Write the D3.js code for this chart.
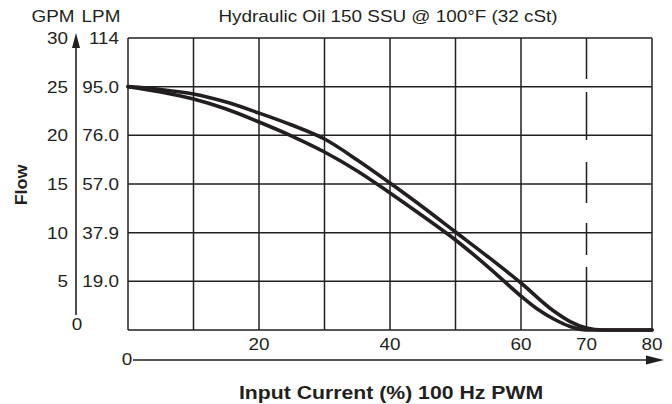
<!DOCTYPE html>
<html>
<head>
<meta charset="utf-8">
<script src="https://cdn.jsdelivr.net/npm/d3@7/dist/d3.min.js"></script>
<style>
  html, body { margin: 0; padding: 0; background: #fff; }
  svg { display: block; }
  text { font-family: "Liberation Sans", Arial, Helvetica, sans-serif; fill: #231f20; }
</style>
</head>
<body>
<svg id="chart" width="672" height="404"></svg>
<script>
// Input current (%) vs flow (GPM), two curves (rising / falling current)
const currentUp = [0, 5, 10, 15, 20, 25, 30, 35, 40, 45, 50, 55, 60, 65, 67.5, 70, 72.5, 80];
const flowUp    = [25, 24.71, 24.25, 23.42, 22.29, 21.06, 19.62, 17.47, 15.1, 12.64, 10.07, 7.5, 4.83, 1.95, 0.87, 0.21, 0, 0];
const currentLo = [0, 5, 10, 15, 20, 25, 30, 35, 40, 45, 50, 55, 60, 62.5, 65, 67.5, 70, 80];
const flowLo    = [25, 24.45, 23.73, 22.7, 21.37, 19.93, 18.29, 16.34, 14.08, 11.71, 9.25, 6.47, 3.49, 2.16, 1.13, 0.36, 0, 0];

const gpmTicks = [30, 25, 20, 15, 10, 5];
const lpmTicks = ["114", "95.0", "76.0", "57.0", "37.9", "19.0"];
const xGrid = [0, 10, 20, 30, 40, 50, 60, 70, 80];
const xTickLabels = [20, 40, 60, 70, 80];

const ink = "#231f20";
const SX = 1.18; // horizontal glyph widening
const svg = d3.select("#chart");

const x = d3.scaleLinear().domain([0, 80]).range([128, 652]);
const y = d3.scaleLinear().domain([0, 30]).range([330, 38]);

function txt(px, py, str, size, opts = {}) {
  const t = svg.append("text")
    .attr("transform", `translate(${px},${py}) ${opts.rotate ? "rotate(-90)" : ""} scale(${opts.sx || SX},1)`)
    .attr("text-anchor", opts.anchor || "middle")
    .attr("dominant-baseline", "central")
    .style("font-size", size + "px")
    .text(str);
  if (opts.bold) t.style("font-weight", "bold");
  return t;
}

// grid
const grid = svg.append("g").attr("stroke", ink).attr("stroke-width", 1.5).attr("fill", "none");
grid.selectAll("line.h").data(gpmTicks.concat([0])).join("line")
  .attr("x1", x(0)).attr("x2", x(80))
  .attr("y1", d => y(d)).attr("y2", d => y(d));
grid.selectAll("line.v").data(xGrid).join("line")
  .attr("y1", y(30)).attr("y2", y(0))
  .attr("x1", d => x(d)).attr("x2", d => x(d))
  .attr("stroke-dasharray", d => d === 70 ? "41,13,48,22,41,20,32,12,63" : null);

// curves
const line = d3.line().curve(d3.curveMonotoneX);
const curves = svg.append("g").attr("fill", "none").attr("stroke", ink)
  .attr("stroke-width", 3.6).attr("stroke-linejoin", "round").attr("stroke-linecap", "round");
curves.append("path").attr("d", line(currentUp.map((c, i) => [x(c), y(flowUp[i])])));
curves.append("path").attr("d", line(currentLo.map((c, i) => [x(c), y(flowLo[i])])));

// GPM labels
const gG = svg.append("g").attr("transform", "translate(68,0)")
  .call(d3.axisLeft(y).tickValues(gpmTicks).tickSize(0).tickPadding(0));
gG.select(".domain").remove();
gG.selectAll("text").attr("x", 0).attr("dy", null).attr("dominant-baseline", "central")
  .attr("transform", `scale(${SX},1)`).attr("fill", ink)
  .style("font-size", "16px").style("font-family", "'Liberation Sans', Arial, sans-serif");

// LPM labels
const lpmScale = d3.scalePoint().domain(lpmTicks).range([y(30), y(5)]);
const gL = svg.append("g").attr("transform", "translate(119,0)")
  .call(d3.axisLeft(lpmScale).tickSize(0).tickPadding(0));
gL.select(".domain").remove();
gL.selectAll("text").attr("x", 0).attr("dy", null).attr("dominant-baseline", "central")
  .attr("transform", `scale(${SX},1)`).attr("fill", ink)
  .style("font-size", "16px").style("font-family", "'Liberation Sans', Arial, sans-serif");

// vertical arrow for flow
svg.append("line").attr("x1", 76).attr("x2", 76).attr("y1", 44).attr("y2", 315)
  .attr("stroke", ink).attr("stroke-width", 1.6);
svg.append("path").attr("d", "M76,33 L72,48 L80,48 Z").attr("fill", ink);
txt(77, 325, "0", 16);

// x labels
xTickLabels.forEach(d => txt(x(d), 345, d, 16));

// horizontal arrow for current
svg.append("line").attr("x1", 133).attr("x2", 650).attr("y1", 360).attr("y2", 360)
  .attr("stroke", ink).attr("stroke-width", 1.6);
svg.append("path").attr("d", "M664,360 L646,355.5 L646,364.5 Z").attr("fill", ink);
txt(127, 360, "0", 16);

// headers
txt(53, 17, "GPM", 16);
txt(101, 17, "LPM", 16);
txt(388, 17, "Hydraulic Oil 150 SSU @ 100°F (32 cSt)", 16);

// axis titles
txt(21, 185, "Flow", 17, { rotate: true, bold: true, sx: 1.05 });
txt(391, 393, "Input Current (%) 100 Hz PWM", 18, { bold: true });
</script>
</body>
</html>
